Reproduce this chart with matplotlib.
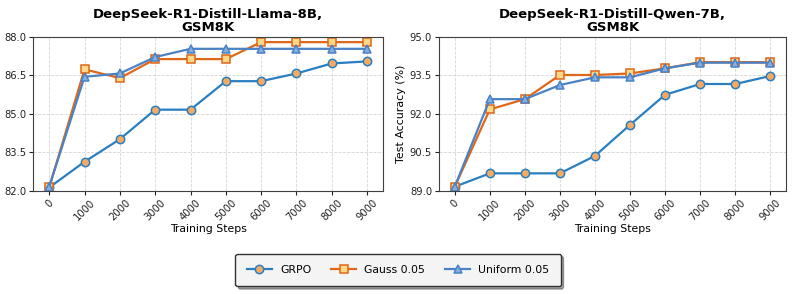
import matplotlib
matplotlib.use("Agg")
import matplotlib.pyplot as plt

steps = [0, 1000, 2000, 3000, 4000, 5000, 6000, 7000, 8000, 9000]

llama_grpo = [82.13, 83.13, 84.01, 85.16, 85.16, 86.27, 86.27, 86.57, 86.96, 87.04]
llama_gauss = [82.13, 86.73, 86.39, 87.13, 87.13, 87.13, 87.79, 87.79, 87.79, 87.79]
llama_unif = [82.16, 86.44, 86.57, 87.21, 87.53, 87.53, 87.53, 87.53, 87.53, 87.53]

qwen_grpo = [89.16, 89.68, 89.68, 89.68, 90.36, 91.57, 92.74, 93.16, 93.16, 93.47]
qwen_gauss = [89.16, 92.17, 92.57, 93.51, 93.51, 93.57, 93.77, 94.01, 94.01, 94.01]
qwen_unif = [89.16, 92.57, 92.57, 93.12, 93.42, 93.42, 93.77, 93.99, 93.99, 93.99]

titles = ["DeepSeek-R1-Distill-Llama-8B,\nGSM8K", "DeepSeek-R1-Distill-Qwen-7B,\nGSM8K"]
labels = ["GRPO", "Gauss 0.05", "Uniform 0.05"]

styles = [
    dict(color="#2a7fc0", marker="o", markerfacecolor="#f5aa63", markeredgecolor="#2a7fc0"),
    dict(color="#e0661a", marker="s", markerfacecolor="#ffd888", markeredgecolor="#e0661a"),
    dict(color="#4a82c4", marker="^", markerfacecolor="#86aee0", markeredgecolor="#4a82c4"),
]

fig = plt.figure(figsize=(7.93, 2.94), dpi=100)
ax1 = fig.add_axes([0.042, 0.351, 0.441, 0.524])
ax2 = fig.add_axes([0.5536, 0.351, 0.4376, 0.524])

data = [(llama_grpo, llama_gauss, llama_unif), (qwen_grpo, qwen_gauss, qwen_unif)]
ylims = [(82.0, 88.0), (89.0, 95.0)]
yticks = [[82.0, 83.5, 85.0, 86.5, 88.0], [89.0, 90.5, 92.0, 93.5, 95.0]]

handles = []
for ax, series, title, yl, yt in zip([ax1, ax2], data, titles, ylims, yticks):
    hs = []
    for s, st, lab in zip(series, styles, labels):
        h, = ax.plot(steps, s, linewidth=1.6, markersize=6, markeredgewidth=1.1, label=lab, **st)
        hs.append(h)
    handles = hs
    ax.set_ylim(*yl)
    ax.set_yticks(yt)
    ax.set_yticklabels([f"{v:.1f}" for v in yt], fontsize=7.2)
    ax.set_xlim(-450, 9450)
    ax.set_xticks(steps)
    ax.set_xticklabels([str(s) for s in steps], rotation=45, fontsize=7.2)
    ax.set_xlabel("Training Steps", fontsize=7.8, labelpad=1)
    ax.set_title(title, fontsize=9.5, fontweight="bold", pad=4, linespacing=1.05)
    ax.grid(True, linestyle="--", color="#d6d6d6", linewidth=0.6)
    ax.set_axisbelow(True)
    for sp in ax.spines.values():
        sp.set_color("#404040")
    ax.tick_params(colors="#222222", length=3, pad=2)

ax2.set_ylabel("Test Accuracy (%)", fontsize=7.9, labelpad=3)

fig.legend(handles=handles, labels=labels, loc="center", bbox_to_anchor=(0.502, 0.082),
           ncol=3, fontsize=7.8, frameon=True, fancybox=True, shadow=True,
           facecolor="#f4f4f4", edgecolor="#333333", handlelength=2.3, columnspacing=1.85,
           borderpad=1.05, handletextpad=0.75)

fig.savefig("out.png", dpi=100)
